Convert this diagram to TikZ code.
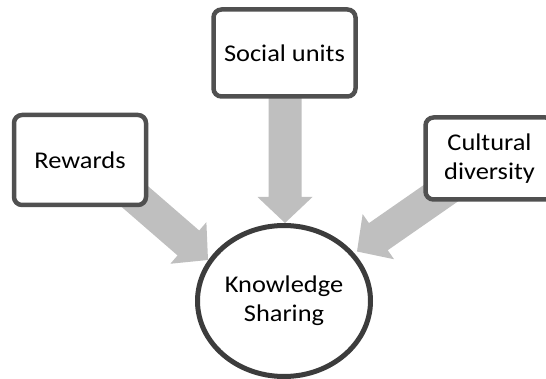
\documentclass[tikz,border=0pt]{standalone}
\usepackage{fontspec}
\setmainfont{Carlito}[FakeStretch=1.1]
\usetikzlibrary{calc,shapes.geometric}

\definecolor{boxline}{HTML}{505050}
\definecolor{ringline}{HTML}{3C3C3C}
\definecolor{arrowgray}{HTML}{BFBFBF}

% Broad block arrow from a tail point to a tip point
\newcommand{\blockarrow}[2]{%
  \coordinate (hb) at ($(#2)!26pt!(#1)$);
  \fill[arrowgray]
    ($(#1)!16.5pt!90:(#2)$) -- ($(hb)!16.5pt!90:(#2)$) --
    ($(hb)!27.5pt!90:(#2)$) -- (#2) --
    ($(hb)!27.5pt!-90:(#2)$) -- ($(hb)!16.5pt!-90:(#2)$) --
    ($(#1)!16.5pt!-90:(#2)$) -- cycle;}

\tikzset{
  factor/.style={draw=boxline, line width=4.5pt, fill=white,
    rounded corners=8pt, align=center, inner sep=0pt,
    font=\fontsize{24}{29}\selectfont},
  core/.style={ellipse, draw=ringline, line width=5pt, fill=white,
    inner sep=0pt, align=center, minimum width=173pt, minimum height=151pt,
    font=\fontsize{24}{29}\selectfont}
}

\begin{document}
\begin{tikzpicture}[x=1pt,y=-1pt]
  \useasboundingbox (0,0) rectangle (546,379);
  \clip (0,0) rectangle (546,379);

  % anchor points of the three block arrows
  \coordinate (rwTail) at (95,162);
  \coordinate (rwTip)  at (208,260);
  \coordinate (suTail) at (285,53);
  \coordinate (suTip)  at (285,223);
  \coordinate (cdTail) at (480,166);
  \coordinate (cdTip)  at (357,251.5);

  \blockarrow{rwTail}{rwTip}
  \blockarrow{suTail}{suTip}
  \blockarrow{cdTail}{cdTip}

  % influencing factors
  \node[factor, minimum width=132pt, minimum height=90pt] (rw) at (80,160) {Rewards};
  \node[factor, minimum width=142pt, minimum height=87pt] (su) at (284.5,53) {Social units};
  \node[factor, minimum width=128pt, minimum height=82pt] (cd) at (489.5,158.5) {Cultural\\diversity};

  % central concept
  \node[core] (ks) at (284,301) {Knowledge\\Sharing};
\end{tikzpicture}
\end{document}
